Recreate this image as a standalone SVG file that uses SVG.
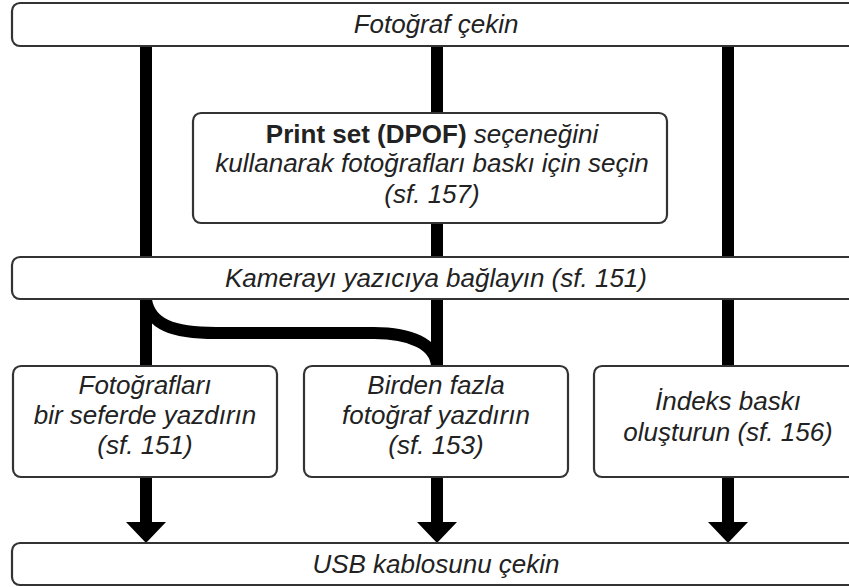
<svg xmlns="http://www.w3.org/2000/svg" width="849" height="587" viewBox="0 0 849 587">
<style>
.box{fill:#fff;stroke:#333;stroke-width:2.2}
.t{font-family:"Liberation Sans",Arial,sans-serif;font-size:26px;font-style:italic;fill:#222;text-anchor:middle}
.b{font-style:normal;font-weight:bold}
.ln{fill:none;stroke:#000;stroke-width:12}
</style>
<rect width="849" height="587" fill="#fff"/>
<g id="connectors">
<line class="ln" x1="146" y1="46" x2="146" y2="366"/>
<line class="ln" x1="437" y1="46" x2="437" y2="366"/>
<line class="ln" x1="728" y1="46" x2="728" y2="366"/>
<path class="ln" d="M146,300 C150,324 172,333 216,333 L374,333 C410,333 436,344 437,366"/>
<path d="M140,477 V522 H126 L146,543 L166,522 H152 V477 Z" fill="#000"/>
<path d="M431,477 V522 H417 L437,543 L457,522 H443 V477 Z" fill="#000"/>
<path d="M722,477 V522 H708 L728,543 L748,522 H734 V477 Z" fill="#000"/>
</g>
<g id="n-fotograf">
<rect class="box" x="12" y="3" width="860" height="43" rx="8"/>
<text class="t" x="436" y="33">Fotoğraf çekin</text>
</g>
<g id="n-printset">
<rect class="box" x="193" y="113" width="474" height="110" rx="8"/>
<text class="t" x="432" y="143"><tspan class="b">Print set (DPOF)</tspan> seçeneğini</text>
<text class="t" x="432" y="172">kullanarak fotoğrafları baskı için seçin</text>
<text class="t" x="432" y="203">(sf. 157)</text>
</g>
<g id="n-kamera">
<rect class="box" x="12" y="257" width="860" height="42" rx="8"/>
<text class="t" x="436" y="287">Kamerayı yazıcıya bağlayın (sf. 151)</text>
</g>
<g id="n-birseferde">
<rect class="box" x="13" y="366" width="264" height="111" rx="8"/>
<text class="t" x="145" y="394">Fotoğrafları</text>
<text class="t" x="145" y="424">bir seferde yazdırın</text>
<text class="t" x="145" y="454">(sf. 151)</text>
</g>
<g id="n-birden">
<rect class="box" x="304" y="366" width="264" height="111" rx="8"/>
<text class="t" x="436" y="394">Birden fazla</text>
<text class="t" x="436" y="424">fotoğraf yazdırın</text>
<text class="t" x="436" y="454">(sf. 153)</text>
</g>
<g id="n-indeks">
<rect class="box" x="594" y="366" width="268" height="111" rx="8"/>
<text class="t" x="728" y="410">İndeks baskı</text>
<text class="t" x="728" y="441">oluşturun (sf. 156)</text>
</g>
<g id="n-usb">
<rect class="box" x="12" y="543" width="860" height="42" rx="8"/>
<text class="t" x="436" y="573">USB kablosunu çekin</text>
</g>
</svg>
